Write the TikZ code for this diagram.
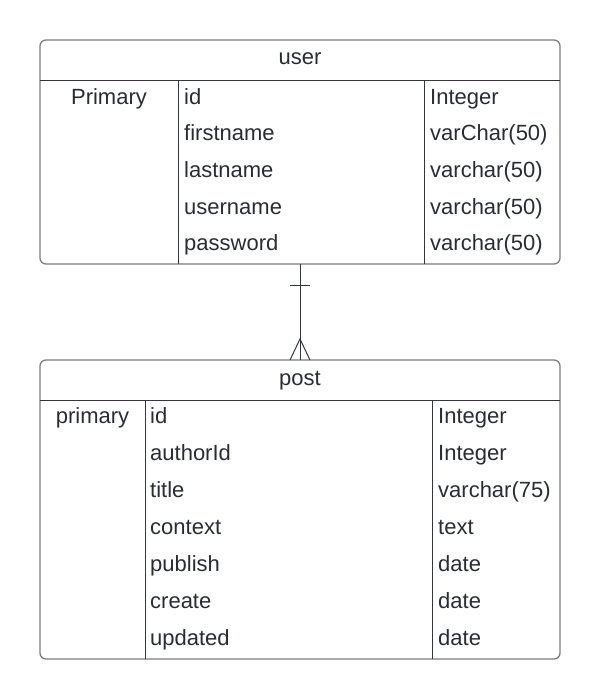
\documentclass[tikz,border=0pt]{standalone}
\usepackage{fontspec}
\setmainfont{Liberation Sans}
\definecolor{txt}{HTML}{282C33}
\definecolor{frame}{HTML}{7A7C80}
\definecolor{inner}{HTML}{33363B}
\begin{document}
\begin{tikzpicture}[x=1pt,y=-1pt,
  lbl/.style={anchor=base west,inner sep=0pt,text=txt,font=\fontsize{22}{26}\selectfont},
  clbl/.style={anchor=base,inner sep=0pt,text=txt,font=\fontsize{22}{26}\selectfont},
  box/.style={draw=frame,line width=1.3pt,rounded corners=6pt},
  sep/.style={draw=inner,line width=1pt},
  rel/.style={draw=inner,line width=1pt}]
\useasboundingbox (0,0) rectangle (600,699);
% user table
\draw[box] (40,40) rectangle (560,264);
\draw[sep] (40,80) -- (560,80);
\draw[sep] (178,80) -- (178,264);
\draw[sep] (424,80) -- (424,264);
\node[clbl] (ut) at (300,64) {user};
\node[clbl] (uk) at (109,104) {Primary};
\node[lbl] (u1) at (184,104) {id};
\node[lbl] (u2) at (184,140.5) {firstname};
\node[lbl] (u3) at (184,177.5) {lastname};
\node[lbl] (u4) at (184,214) {username};
\node[lbl] (u5) at (184,250.5) {password};
\node[lbl] (t1) at (430,104) {Integer};
\node[lbl] (t2) at (430,140.5) {varChar(50)};
\node[lbl] (t3) at (430,177.5) {varchar(50)};
\node[lbl] (t4) at (430,214) {varchar(50)};
\node[lbl] (t5) at (430,250.5) {varchar(50)};
% post table
\draw[box] (40,360) rectangle (560,659);
\draw[sep] (40,400) -- (560,400);
\draw[sep] (145,400) -- (145,659);
\draw[sep] (432,400) -- (432,659);
\node[clbl] (pt) at (300,385) {post};
\node[clbl] (pk) at (92.5,423) {primary};
\node[lbl] (p1) at (150,423) {id};
\node[lbl] (p2) at (150,460) {authorId};
\node[lbl] (p3) at (150,497) {title};
\node[lbl] (p4) at (150,534) {context};
\node[lbl] (p5) at (150,571) {publish};
\node[lbl] (p6) at (150,608) {create};
\node[lbl] (p7) at (150,645) {updated};
\node[lbl] (q1) at (438,423) {Integer};
\node[lbl] (q2) at (438,460) {Integer};
\node[lbl] (q3) at (438,497) {varchar(75)};
\node[lbl] (q4) at (438,534) {text};
\node[lbl] (q5) at (438,571) {date};
\node[lbl] (q6) at (438,608) {date};
\node[lbl] (q7) at (438,645) {date};
% relationship
\coordinate (ra) at (300,264);
\coordinate (rb) at (300,360);
\draw[rel] (ra) -- (rb);
\draw[rel] (290,285) -- (310,285);
\draw[rel] (290,360) -- (300,339) -- (310,360);
\end{tikzpicture}
\end{document}
